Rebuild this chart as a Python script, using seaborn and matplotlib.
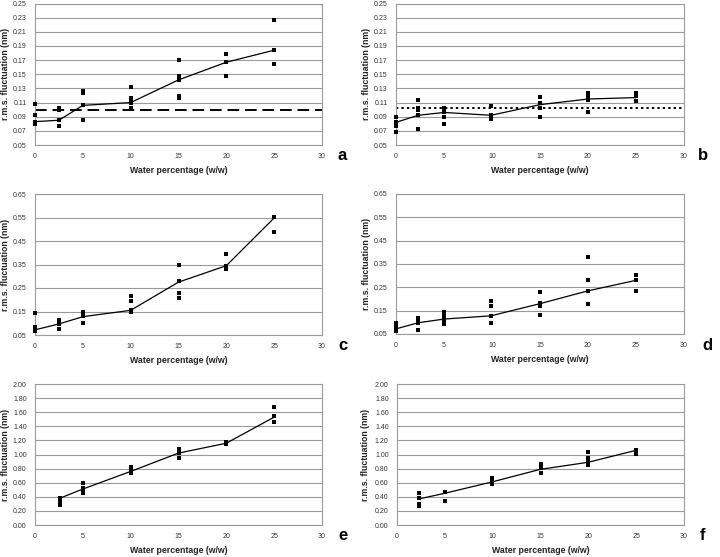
import numpy as np
import pandas as pd
import matplotlib
matplotlib.use("Agg")
import matplotlib.pyplot as plt
import seaborn as sns

sns.set_theme(style="white")
plt.rcParams['font.family'] = ['Liberation Sans', 'DejaVu Sans']

# ---------------- data ----------------
a_x = [0]*5 + [2.5]*4 + [5]*4 + [10]*5 + [15]*5 + [20]*3 + [25]*3
a_y = [0.108, 0.092, 0.083, 0.081, 0.079,
       0.103, 0.100, 0.085, 0.077,
       0.126, 0.123, 0.106, 0.085,
       0.132, 0.116, 0.113, 0.109, 0.103,
       0.170, 0.147, 0.142, 0.119, 0.117,
       0.179, 0.167, 0.147,
       0.226, 0.184, 0.164]
a_mx = [0, 2.5, 5, 10, 15, 20, 25]
a_my = [0.083, 0.085, 0.106, 0.110, 0.142, 0.167, 0.184]
a_ref = 0.100

b_x = [0]*4 + [2.3]*5 + [5]*5 + [9.9]*4 + [15]*4 + [20]*5 + [25]*3
b_y = [0.090, 0.082, 0.077, 0.068,
       0.114, 0.103, 0.100, 0.092, 0.073,
       0.103, 0.099, 0.096, 0.089, 0.080,
       0.105, 0.093, 0.090, 0.087,
       0.118, 0.109, 0.102, 0.090,
       0.124, 0.121, 0.117, 0.113, 0.097,
       0.123, 0.119, 0.112]
b_mx = [0, 2.3, 5, 9.9, 15, 20, 25]
b_my = [0.082, 0.092, 0.096, 0.092, 0.107, 0.115, 0.117]
b_ref = 0.102

c_x = [0]*4 + [2.5]*4 + [5]*4 + [10]*4 + [15]*4 + [20]*3 + [25]*2
c_y = [0.145, 0.086, 0.076, 0.066,
       0.112, 0.103, 0.096, 0.076,
       0.150, 0.141, 0.130, 0.101,
       0.215, 0.195, 0.157, 0.150,
       0.349, 0.278, 0.229, 0.206,
       0.394, 0.345, 0.332,
       0.552, 0.488]
c_mx = [0, 2.5, 5, 10, 15, 20, 25]
c_my = [0.072, 0.097, 0.128, 0.155, 0.275, 0.345, 0.548]

d_x = [0]*4 + [2.3]*4 + [5]*6 + [9.9]*4 + [15]*4 + [20]*4 + [25]*3
d_y = [0.097, 0.083, 0.073, 0.064,
       0.118, 0.110, 0.096, 0.067,
       0.146, 0.133, 0.121, 0.113, 0.104, 0.093,
       0.193, 0.170, 0.128, 0.098,
       0.228, 0.182, 0.171, 0.133,
       0.379, 0.280, 0.235, 0.180,
       0.305, 0.280, 0.233]
d_mx = [0, 2.3, 5, 9.9, 15, 20, 25]
d_my = [0.072, 0.098, 0.114, 0.128, 0.180, 0.235, 0.280]

e_x = [2.6]*3 + [5]*4 + [10]*3 + [15]*3 + [20]*2 + [25]*3
e_y = [0.388, 0.320, 0.284,
       0.596, 0.525, 0.490, 0.454,
       0.823, 0.780, 0.740,
       1.083, 1.020, 0.950,
       1.180, 1.150,
       1.670, 1.540, 1.460]
e_mx = [2.6, 5, 10, 15, 20, 25]
e_my = [0.38, 0.51, 0.76, 1.02, 1.16, 1.53]

f_x = [2.3]*4 + [5]*2 + [9.9]*3 + [15]*3 + [20]*4 + [25]*2
f_y = [0.459, 0.388, 0.293, 0.274,
       0.468, 0.340,
       0.660, 0.620, 0.586,
       0.860, 0.810, 0.740,
       1.040, 0.945, 0.890, 0.850,
       1.070, 1.010]
f_mx = [2.3, 5, 9.9, 15, 20, 25]
f_my = [0.37, 0.45, 0.61, 0.79, 0.89, 1.06]

x_ticks = [0, 5, 10, 15, 20, 25, 30]
ticks_ab = [0.05, 0.07, 0.09, 0.11, 0.13, 0.15, 0.17, 0.19, 0.21, 0.23, 0.25]
ticks_cd = [0.05, 0.15, 0.25, 0.35, 0.45, 0.55, 0.65]
ticks_ef = [0.00, 0.20, 0.40, 0.60, 0.80, 1.00, 1.20, 1.40, 1.60, 1.80, 2.00]

panels = [
    ("a", a_x, a_y, a_mx, a_my, ticks_ab, a_ref, (0, (6, 3))),
    ("b", b_x, b_y, b_mx, b_my, ticks_ab, b_ref, (0, (1.2, 1.6))),
    ("c", c_x, c_y, c_mx, c_my, ticks_cd, None, None),
    ("d", d_x, d_y, d_mx, d_my, ticks_cd, None, None),
    ("e", e_x, e_y, e_mx, e_my, ticks_ef, None, None),
    ("f", f_x, f_y, f_mx, f_my, ticks_ef, None, None),
]

# axes rectangles in pixels (left, top, right, bottom)
W, H = 720, 557
rects = {
    "a": (35, 3.5, 322, 145),
    "b": (396, 3.5, 684, 145),
    "c": (35, 194, 322, 335),
    "d": (396, 194, 684, 334),
    "e": (35, 384, 322, 525),
    "f": (397, 384, 684, 525),
}
ylabel_x = {"a": 6, "b": 366, "c": 6, "d": 366, "e": 6, "f": 366}
letter_pos = {"a": (342, 156), "b": (703, 155), "c": (343, 345),
              "d": (707, 346), "e": (343, 535), "f": (703, 535)}

fig = plt.figure(figsize=(7.2, 5.57), dpi=100)
grid_c = "#9a9a9a"

for name, xs, ys, mx, my, yt, ref, ls in panels:
    l, t, r, b = rects[name]
    ax = fig.add_axes([l / W, 1 - b / H, (r - l) / W, (b - t) / H])
    pts = pd.DataFrame({"x": xs, "y": ys})
    mean = pd.DataFrame({"x": mx, "y": my})
    for yv in yt:
        ax.axhline(yv, color=grid_c, lw=0.8, zorder=0)
    if ref is not None:
        ax.axhline(ref, color="black", lw=1.4, linestyle=ls, zorder=2)
    sns.lineplot(data=mean, x="x", y="y", ax=ax, color="black", lw=0.9,
                 estimator=None, sort=False, zorder=3, clip_on=False)
    sns.scatterplot(data=pts, x="x", y="y", ax=ax, color="black", marker="s",
                    s=8, linewidth=0, zorder=4, clip_on=False)
    ax.set_xlim(0, 30)
    ax.set_ylim(yt[0], yt[-1])
    ax.set_xticks(x_ticks)
    ax.set_xticklabels([str(v) for v in x_ticks])
    ax.set_yticks(yt)
    ax.set_yticklabels([f"{v:.2f}" for v in yt])
    ax.tick_params(axis="both", labelsize=5, labelcolor="#333333",
                   color=grid_c, length=2, width=0.6, pad=4)
    ax.set_xlabel("Water percentage (w/w)", fontsize=6.3, fontweight="bold",
                  color="#222222", labelpad=4)
    ax.set_ylabel("r.m.s. fluctuation (nm)", fontsize=6.3, fontweight="bold",
                  color="#222222", va="center")
    ax.yaxis.set_label_coords((ylabel_x[name] - l) / (r - l), 0.5)
    for sname, sp in ax.spines.items():
        sp.set_visible(True)
        sp.set_linewidth(0.8)
        sp.set_color(grid_c)
    ax.grid(False)
    lx, ly = letter_pos[name]
    fig.text(lx / W, 1 - ly / H, name, fontsize=12, fontweight="bold",
             ha="center", va="center", color="black")

fig.savefig("out.png", dpi=100, facecolor="white")
